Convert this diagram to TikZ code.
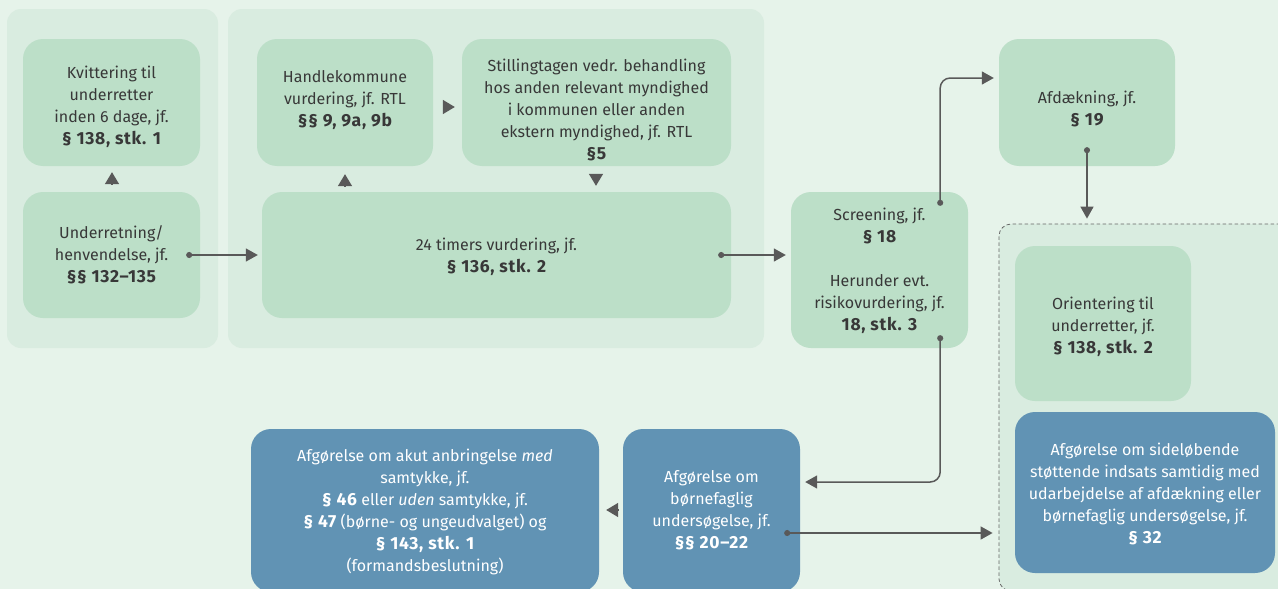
\documentclass[tikz,border=0pt]{standalone}
\usepackage{fontspec}
\setmainfont{Fira Sans}
\usetikzlibrary{arrows.meta,calc}
\definecolor{bgc}{HTML}{E6F3EA}
\definecolor{panelc}{HTML}{D9ECE0}
\definecolor{gboxc}{HTML}{BCDFC8}
\definecolor{bboxc}{HTML}{6193B4}
\definecolor{txtc}{HTML}{383838}
\definecolor{arrc}{HTML}{595959}
\definecolor{dashc}{HTML}{666666}
\newcommand{\bx}[1]{{\fontsize{17.5}{22}\selectfont\bfseries\addfontfeatures{LetterSpace=4}#1}}
\begin{document}
\begin{tikzpicture}[x=1pt,y=-1pt,
  boxbase/.style={rectangle, rounded corners=20pt, inner sep=0pt},
  gbox/.style={boxbase, fill=gboxc},
  bbox/.style={boxbase, fill=bboxc},
  lblbase/.style={inner sep=0pt, align=center, font=\fontsize{16}{22}\selectfont},
  glbl/.style={lblbase, text=txtc},
  blbl/.style={lblbase, text=white},
  panel/.style={fill=panelc, rounded corners=14pt},
  dpanel/.style={rectangle, fill=panelc, draw=dashc, line width=0.8pt, dash pattern=on 3.5pt off 2.5pt, rounded corners=12pt, inner sep=0pt},
  conn/.style={draw=arrc, line width=1.5pt, rounded corners=10pt,
    {Circle[length=6pt]}-{Triangle[length=12pt,width=13pt]}},
  tiponly/.style={draw=arrc, line width=1.5pt, -{Triangle[length=12pt,width=14pt]}}
]
\fill[bgc] (0,0) rectangle (1278,589);
\useasboundingbox (0,0) rectangle (1278,589);
\clip (0,0) rectangle (1278,589);

% panels
\fill[panel] (7,9) rectangle (218,348);
\fill[panel] (228,9) rectangle (764,348);
\node[dpanel, minimum width=311pt, minimum height=367pt] (dpan) at (1154.5,407.5) {};

% boxes
\node[gbox, minimum width=177pt, minimum height=127pt] (kvit) at (111.5,102.5) {};
\node[gbox, minimum width=177pt, minimum height=126pt] (under) at (111.5,255) {};
\node[gbox, minimum width=176pt, minimum height=127pt] (handle) at (345,102.5) {};
\node[gbox, minimum width=269pt, minimum height=127pt] (still) at (596.5,102.5) {};
\node[gbox, minimum width=469pt, minimum height=126pt] (timer) at (496.5,255) {};
\node[gbox, minimum width=176pt, minimum height=127pt] (afd) at (1087,102.5) {};
\node[gbox, minimum width=177pt, minimum height=156pt] (screen) at (879.5,270) {};
\node[gbox, minimum width=176pt, minimum height=155pt] (orient) at (1103,323.5) {};
\node[bbox, minimum width=260pt, minimum height=161pt] (s32) at (1145,492.5) {};
\node[bbox, minimum width=348pt, minimum height=163pt] (akut) at (425,510.5) {};
\node[bbox, minimum width=177pt, minimum height=163pt] (born) at (711.5,510.5) {};

% labels
\node[glbl] (kvitt) at ($(kvit)+(0,4)$)
  {Kvittering til\\underretter\\inden 6 dage, jf.\\\bx{§ 138, stk. 1}};
\node[glbl] (undert) at ($(under)+(0,0)$)
  {Underretning/\\henvendelse, jf.\\\bx{§§ 132–135}};
\node[glbl] (handlet) at ($(handle)+(0,-2)$)
  {Handlekommune\\vurdering, jf. RTL\\\bx{§§ 9, 9a, 9b}};
\node[glbl] (stillt) at ($(still)+(0,7)$)
  {Stillingtagen vedr. behandling\\hos anden relevant myndighed\\i kommunen eller anden\\ekstern myndighed, jf. RTL\\\bx{§5}};
\node[glbl] (timert) at ($(timer)+(0,2)$)
  {24 timers vurdering, jf.\\\bx{§ 136, stk. 2}};
\node[glbl] (afdt) at ($(afd)+(0,6)$)
  {Afdækning, jf.\\\bx{§ 19}};
\node[glbl] (screent) at ($(screen)+(0,1)$)
  {Screening, jf.\\\bx{§ 18}\\[22pt]Herunder evt.\\risikovurdering, jf.\\\bx{18, stk. 3}};
\node[glbl] (orientt) at ($(orient)+(0,3)$)
  {Orientering til\\underretter, jf.\\\bx{§ 138, stk. 2}};
\node[blbl] (s32t) at ($(s32)+(0,1)$)
  {Afgørelse om sideløbende\\støttende indsats samtidig med\\udarbejdelse af afdækning eller\\børnefaglig undersøgelse, jf.\\\bx{§ 32}};
\node[blbl] (akutt) at ($(akut)+(0,1.5)$)
  {Afgørelse om akut anbringelse \emph{med}\\samtykke, jf.\\\bx{§ 46} eller \emph{uden} samtykke, jf.\\\bx{§ 47} (børne- og ungeudvalget) og\\\bx{§ 143, stk. 1}\\(formandsbeslutning)};
\node[blbl] (bornt) at ($(born)+(0,0)$)
  {Afgørelse om\\børnefaglig\\undersøgelse, jf.\\\bx{§§ 20–22}};

% connectors
\draw[conn] ($(under.east)+(-14,0)$) -- ([xshift=-4pt]timer.west);
\draw[conn] ($(timer.east)+(-13,0)$) -- ($(timer.east -| screen.west)+(-5,0)$);
\draw[conn] ($(screen.north east)+(-28,14)$) |- ($(afd.west)+(-5,-24.5)$);
\draw[conn] ($(afd.south)+(0,-19)$) -- ($(afd.south |- dpan.north)+(0,-5)$);
\draw[conn] ($(screen.south east)+(-28,-13)$) |- ($(born.east)+(5,-28.5)$);
\draw[conn] ($(born.east)+(-16,22.5)$) -- ($(born.east -| dpan.west)+(-6,22.5)$);

% standalone arrowheads
\draw[tiponly] ($(under.north)+(0.5,-8)$) -- ($(kvit.south)+(0.5,6)$);
\draw[tiponly] ($(timer.north -| handle.south)+(0,-6)$) -- ($(handle.south)+(0,8)$);
\draw[tiponly] ($(still.south)+(-0.5,8)$) -- ($(timer.north -| still.south)+(-0.5,-6)$);
\draw[tiponly] ($(handle.east)+(10,4.5)$) -- ($(still.west)+(-7,4.5)$);
\draw[tiponly] ($(born.west)+(-5,-0.5)$) -- ($(akut.east)+(7,-0.5)$);
\end{tikzpicture}
\end{document}
